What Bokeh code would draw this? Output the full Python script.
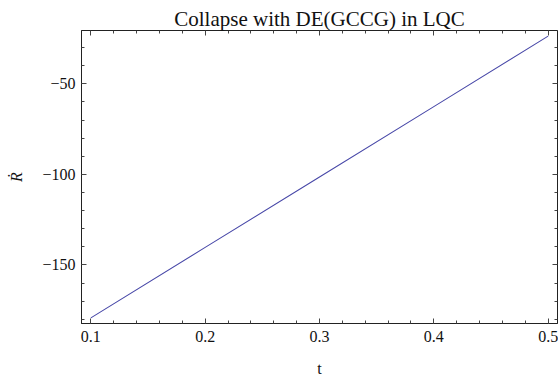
import numpy as np
from bokeh.plotting import figure
from bokeh.models import Range1d, LinearAxis, FixedTicker, Title, CustomJSTickFormatter
from bokeh.embed import file_html
from bokeh.resources import INLINE

# data
t_vals = [0.1, 0.2, 0.3, 0.4, 0.5]
rdot_vals = [-179.2, -140.3, -101.5, -62.6, -23.7]

x_ticks = [0.1, 0.2, 0.3, 0.4, 0.5]
x_tick_labels = ["0.1", "0.2", "0.3", "0.4", "0.5"]
y_ticks = [-150, -100, -50]
y_tick_labels = ["\u2212150", "\u2212100", "\u221250"]

FONT = "Liberation Serif"
FRAME = "#222222"
TICK = "#444444"

xr = Range1d(0.0918, 0.5082)
yrng = Range1d(-182.3, -20.6)

p = figure(width=558, height=383, output_backend="svg", toolbar_location=None,
           x_range=xr, y_range=yrng,
           x_axis_location=None, y_axis_location=None,
           min_border_left=81, min_border_right=1, min_border_top=30, min_border_bottom=60)
p.background_fill_color = "white"
p.border_fill_color = "white"
p.grid.visible = False
p.outline_line_color = FRAME
p.outline_line_width = 1

x_minor = [round(v, 2) for v in np.arange(0.08, 0.52, 0.02)]
y_minor = list(range(-190, -10, 10))

JS = """
let best = -1, bd = Infinity;
for (let i = 0; i < tv.length; i++) {
  const d = Math.abs(tv[i] - tick);
  if (d < bd) { bd = d; best = i; }
}
return (best >= 0 && bd < 1e-6 * (1 + Math.abs(tick))) ? lv[best] : '';
"""

def make_axis(kind, labels):
    ax = LinearAxis()
    if kind == "x":
        ax.ticker = FixedTicker(ticks=x_ticks, minor_ticks=x_minor)
        lab = x_tick_labels if labels else [""] * len(x_ticks)
        ax.formatter = CustomJSTickFormatter(args=dict(tv=x_ticks, lv=lab), code=JS)
    else:
        ax.ticker = FixedTicker(ticks=y_ticks, minor_ticks=y_minor)
        lab = y_tick_labels if labels else [""] * len(y_ticks)
        ax.formatter = CustomJSTickFormatter(args=dict(tv=y_ticks, lv=lab), code=JS)
    ax.major_tick_in = 5
    ax.major_tick_out = 0
    ax.minor_tick_in = 3
    ax.minor_tick_out = 0
    ax.major_tick_line_color = TICK
    ax.minor_tick_line_color = TICK
    ax.axis_line_color = FRAME
    ax.major_label_text_font = FONT
    ax.major_label_text_font_size = "16px"
    ax.major_label_text_color = "#111111"
    ax.axis_label_text_font = FONT
    ax.axis_label_text_font_style = "normal"
    ax.axis_label_text_color = "#111111"
    if not labels:
        ax.major_label_standoff = 0
        ax.axis_label_standoff = 0
        ax.major_label_text_font_size = "0px"
    return ax

xb = make_axis("x", True)
xb.axis_label = "t"
xb.axis_label_text_font_size = "16px"
xb.major_label_standoff = 7
xb.axis_label_standoff = 15
p.add_layout(xb, "below")

yl = make_axis("y", True)
yl.axis_label = "\u1E58"
yl.axis_label_text_font_size = "16px"
yl.axis_label_text_font_style = "italic"
yl.major_label_standoff = 6
yl.axis_label_standoff = 14
p.add_layout(yl, "left")

# frame ticks on the top and right edges (no labels, no extra panel space)
xt = make_axis("x", False)
xt.fixed_location = yrng.end
p.add_layout(xt, "above")
yr = make_axis("y", False)
yr.fixed_location = xr.end
p.add_layout(yr, "right")

p.title = Title(text="Collapse with DE(GCCG) in LQC", align="center",
                text_font=FONT, text_font_size="21px", text_font_style="normal",
                text_color="#111111", standoff=0, offset=0)

p.line(t_vals, rdot_vals, line_color="#4848a8", line_width=1.1)

open("out.html", "w").write(file_html(p, INLINE))
